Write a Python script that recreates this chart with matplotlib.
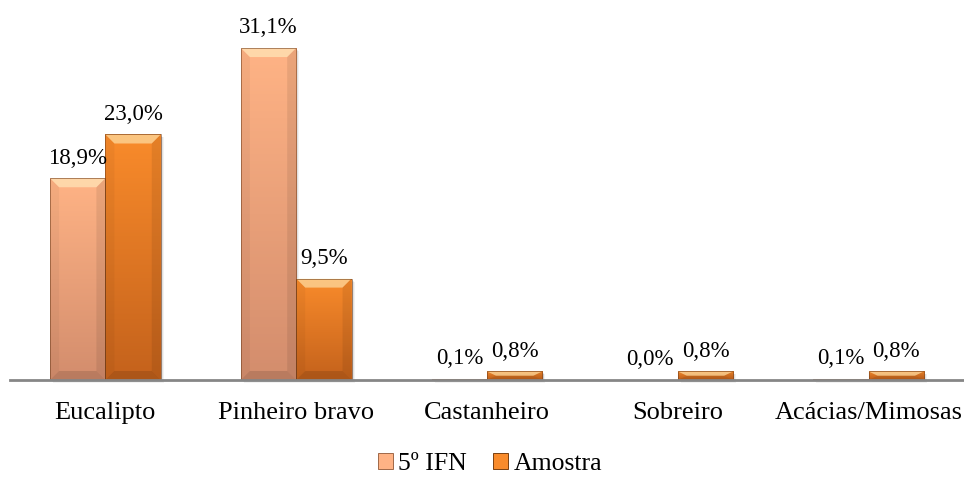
import matplotlib
matplotlib.use("Agg")
import matplotlib.pyplot as plt
import numpy as np
from matplotlib.patches import Polygon, Rectangle
from matplotlib.colors import LinearSegmentedColormap

plt.rcParams['font.family'] = ['Liberation Serif', 'DejaVu Serif']

categories = ["Eucalipto", "Pinheiro bravo", "Castanheiro", "Sobreiro", "Acácias/Mimosas"]
ifn = [18.9, 31.1, 0.1, 0.0, 0.1]
amostra = [23.0, 9.5, 0.8, 0.8, 0.8]
series_names = ["5º IFN", "Amostra"]

light_top, light_bot = "#FFB385", "#D38D6D"
dark_top, dark_bot = "#F98B2B", "#C4621C"

W, H = 964, 478
fig = plt.figure(figsize=(W / 100, H / 100), dpi=100)
ax = fig.add_axes([10 / W, (H - 380) / H, 954 / W, 380 / H])
ax.set_xlim(-0.5, 4.5)
ax.set_ylim(0, 35.6)

x = np.arange(len(categories))
bw = 0.29

# pixel -> data conversions
px_x = 1.0 / (954 / 5.0)
px_y = 1.0 / (380 / 35.6)


def draw_bar(xc, h, ctop, cbot, label):
    x0, x1 = xc - bw / 2, xc + bw / 2
    # shadow
    for k, a in [(5, 0.05), (3.5, 0.07), (2, 0.09)]:
        ax.add_patch(Rectangle((x0 + k * px_x * 0.6, -k * px_y * 0.6), bw, h,
                               facecolor="black", alpha=a, lw=0, zorder=1, clip_on=False))
    bar = ax.bar(xc, h, bw, color=ctop, lw=0, zorder=2)[0]
    if h > 0:
        cmap = LinearSegmentedColormap.from_list("g", [cbot, ctop])
        grad = np.linspace(0, 1, 100).reshape(-1, 1)
        im = ax.imshow(grad, cmap=cmap, aspect="auto", origin="lower",
                       extent=(x0, x1, 0, h), zorder=3)
        im.set_clip_path(bar)
        b = min(9 * px_x, bw / 2)
        by = min(9 * px_y, h / 2)
        # top bevel (light)
        ax.add_patch(Polygon([(x0, h), (x1, h), (x1 - b, h - by), (x0 + b, h - by)],
                             closed=True, facecolor="#FFF6C8", alpha=0.55, lw=0, zorder=4))
        # side bevels
        ax.add_patch(Polygon([(x0, h), (x0 + b, h - by), (x0 + b, by), (x0, 0)],
                             closed=True, facecolor="black", alpha=0.04, lw=0, zorder=4))
        ax.add_patch(Polygon([(x1, h), (x1 - b, h - by), (x1 - b, by), (x1, 0)],
                             closed=True, facecolor="black", alpha=0.08, lw=0, zorder=4))
        # bottom bevel (dark)
        ax.add_patch(Polygon([(x0, 0), (x1, 0), (x1 - b, by), (x0 + b, by)],
                             closed=True, facecolor="black", alpha=0.12, lw=0, zorder=4))
        ax.add_patch(Rectangle((x0, 0), bw, h, facecolor="none", edgecolor="#6a3a1a",
                               lw=0.7, alpha=0.55, zorder=5))
    ax.annotate(label, (xc, h), xytext=(0, 7), textcoords="offset points",
                ha="center", va="bottom", fontsize=16.5, zorder=6)


for i in range(len(categories)):
    draw_bar(x[i] - bw / 2, ifn[i], light_top, light_bot,
             f"{ifn[i]:.1f}%".replace(".", ","))
    draw_bar(x[i] + bw / 2, amostra[i], dark_top, dark_bot,
             f"{amostra[i]:.1f}%".replace(".", ","))

for s in ["top", "right", "left"]:
    ax.spines[s].set_visible(False)
ax.spines["bottom"].set_color("#868686")
ax.spines["bottom"].set_linewidth(2)
ax.spines["bottom"].set_zorder(7)
ax.set_yticks([])
ax.set_xticks(x)
ax.set_xticklabels(categories, fontsize=19)
ax.tick_params(axis="x", length=0, pad=16)

handles = [Rectangle((0, 0), 1, 1, facecolor=light_top, edgecolor="#a06848", lw=0.7),
           Rectangle((0, 0), 1, 1, facecolor=dark_top, edgecolor="#7a4010", lw=0.7)]
fig.legend(handles, series_names, loc="center", bbox_to_anchor=(490 / W, (H - 464) / H),
           ncol=2, frameon=False, fontsize=18.5, handlelength=0.6, handleheight=0.6,
           handletextpad=0.2, columnspacing=1.0)

fig.savefig("out.png", dpi=100)
